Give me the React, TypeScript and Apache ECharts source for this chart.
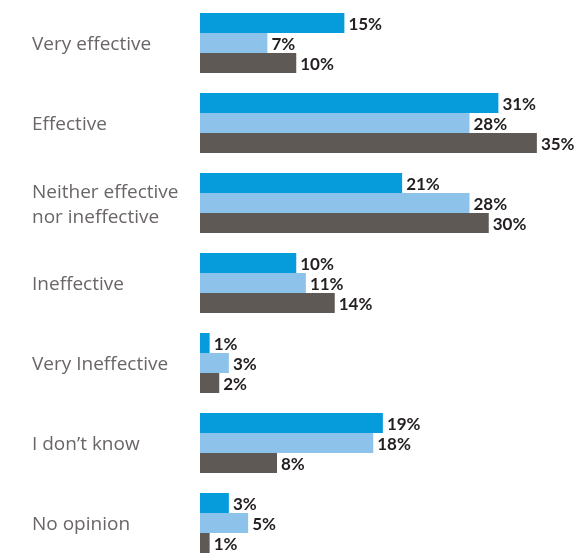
import React, { useEffect, useRef } from "react";
import * as echarts from "echarts";

const categories = [
  "Very effective",
  "Effective",
  "Neither effective\nnor ineffective",
  "Ineffective",
  "Very Ineffective",
  "I don\u2019t know",
  "No opinion",
];
const series1 = [15, 31, 21, 10, 1, 19, 3];
const series2 = [7, 28, 28, 11, 3, 18, 5];
const series3 = [10, 35, 30, 14, 2, 8, 1];
const seriesNames = ["Series 1", "Series 2", "Series 3"];
const colors = ["#069cdb", "#8dc3ea", "#5e5954"];

export default function App() {
  const ref = useRef<HTMLDivElement>(null);
  useEffect(() => {
    if (!ref.current) return;
    const chart = echarts.init(ref.current, null, { renderer: "svg" });
    const data = [series1, series2, series3];
    chart.setOption({
      animation: false,
      grid: {
        left: 200,
        top: 3,
        width: 385,
        height: 560,
        containLabel: false,
        outerBoundsMode: "none",
      },
      xAxis: {
        type: "value",
        min: 0,
        max: 40,
        show: false,
      },
      yAxis: {
        type: "category",
        data: categories,
        inverse: true,
        axisLine: { show: false },
        axisTick: { show: false },
        axisLabel: {
          align: "left",
          margin: 168,
          color: "#6a6665",
          fontFamily: "Open Sans",
          fontSize: 19,
          lineHeight: 25,
        },
      },
      series: data.map((d, i) => ({
        name: seriesNames[i],
        type: "bar",
        data: d,
        barWidth: 20,
        barGap: "0%",
        itemStyle: { color: colors[i] },
        label: {
          show: true,
          position: "right",
          distance: 4,
          formatter: "{c}%",
          color: "#231f20",
          fontFamily: "Lato",
          fontWeight: "bold",
          fontSize: 17,
          lineHeight: 20,
        },
      })),
    });
    return () => chart.dispose();
  }, []);
  return (
    <div
      ref={ref}
      style={{ position: "fixed", left: 0, top: 0, width: 575, height: 554 }}
    />
  );
}
